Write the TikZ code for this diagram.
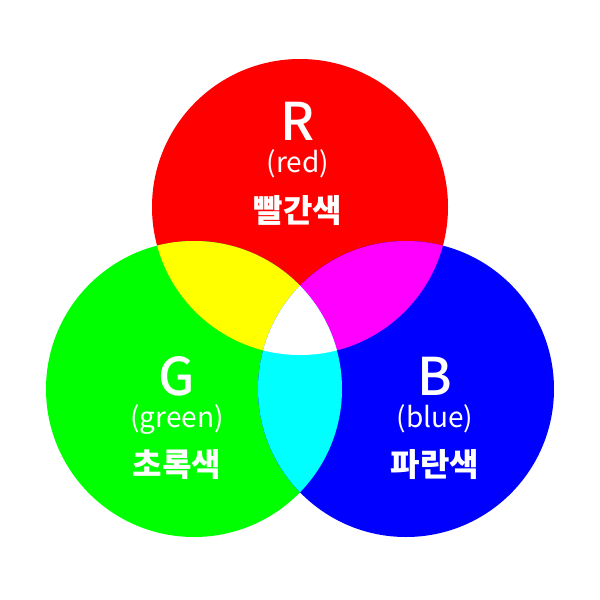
\documentclass[tikz,border=0pt]{standalone}
\usepackage{fontspec}
\setmainfont{Noto Sans CJK KR}
\newfontfamily\medfont{Noto Sans CJK KR Medium}
\usepackage{xcolor}
\usetikzlibrary{positioning}
\definecolor{LightRed}{RGB}{255,0,0}
\definecolor{LightGreen}{RGB}{0,255,0}
\definecolor{LightBlue}{RGB}{0,0,255}
\definecolor{MixYellow}{RGB}{255,255,0}
\definecolor{MixMagenta}{RGB}{255,0,255}
\definecolor{MixCyan}{RGB}{0,255,255}
\tikzset{
  % Testi sui cerchi
  letter/.style={text=white,font=\medfont\fontsize{52}{52}\selectfont,inner sep=0,anchor=base},
  name en/.style={text=white,font=\fontsize{28}{28}\selectfont,inner sep=0,anchor=base},
  name ko/.style={text=white,font=\bfseries\fontsize{32}{32}\selectfont,inner sep=0},
}

\begin{document}
\begin{tikzpicture}[x=1pt,y=-1pt]
    \useasboundingbox[fill=white] (0,0) rectangle (600,600);
    \def\rad{148pt}
    \coordinate (cR) at (300,207);
    \coordinate (cG) at (194,389);
    \coordinate (cB) at (406,389);
    % Cerchi primari
    \fill[LightRed] (cR) circle[radius=\rad];
    \fill[LightGreen] (cG) circle[radius=\rad];
    \fill[LightBlue] (cB) circle[radius=\rad];
    % Intersezioni
    \begin{scope}
      \clip (cR) circle[radius=\rad];
      \fill[MixYellow] (cG) circle[radius=\rad];
      \fill[MixMagenta] (cB) circle[radius=\rad];
    \end{scope}
    \begin{scope}
      \clip (cG) circle[radius=\rad];
      \fill[MixCyan] (cB) circle[radius=\rad];
      \clip (cB) circle[radius=\rad];
      \fill[white] (cR) circle[radius=\rad];
    \end{scope}
    % Etichette
    \node[letter] (R) at (298,140) {R};
    \node[name en] (red) at (298,172) {(red)};
    \node[name ko] (redko) at (298,211) {빨간색};
    \node[letter] (G) at (177,395) {G};
    \node[name en] (green) at (177,427) {(green)};
    \node[name ko] (greenko) at (177,465) {초록색};
    \node[letter] (B) at (435,395) {B};
    \node[name en] (blue) at (435,427) {(blue)};
    \node[name ko] (blueko) at (435,465) {파란색};
\end{tikzpicture}
\end{document}
